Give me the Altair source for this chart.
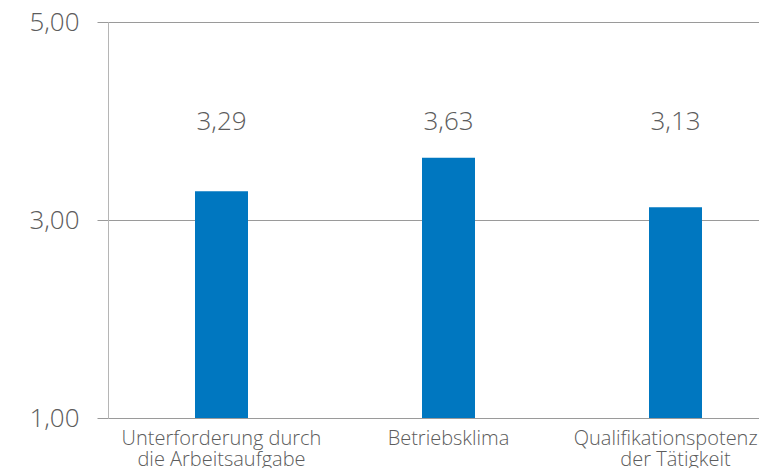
import altair as alt
import pandas as pd

categories = ["Unterforderung durch\ndie Arbeitsaufgabe", "Betriebsklima", "Qualifikationspotenzial\nder Tätigkeit"]
values = [3.29, 3.63, 3.13]
value_labels = ["3,29", "3,63", "3,13"]
y_ticks = [1, 3, 5]
baseline_value = [1, 1, 1]
label_level = [3.99, 3.99, 3.99]

df = pd.DataFrame({"cat": categories, "val": values, "base": baseline_value,
                   "lab": value_labels, "lvl": label_level})

FONT = "Open Sans"
GREY = "#5c5c5c"

x = alt.X("cat:N", sort=categories, title=None,
          scale=alt.Scale(range=[0, 681], paddingInner=0, paddingOuter=0),
          axis=alt.Axis(labelExpr="split(datum.value, '\\n')", labelAngle=0,
                        labelFontSize=20, labelColor=GREY, labelFont=FONT, labelFontWeight=300,
                        labelLineHeight=21, labelPadding=10, labelBaseline="top",
                        ticks=False, domain=False, labelLimit=400, labelOverlap=False))

bars = alt.Chart(df).mark_bar(color="#0077C0", size=53).encode(
    x=x,
    y=alt.Y("val:Q", title=None,
            scale=alt.Scale(domain=[1, 5], nice=False, zero=False),
            axis=alt.Axis(values=y_ticks, labelExpr="replace(format(datum.value, '.2f'), '.', ',')",
                          labelFontSize=26, labelColor=GREY, labelFont=FONT, labelFontWeight=300,
                          labelPadding=18,
                          tickSize=11, tickColor="#9a9a9a", domainColor="#b5b5b5",
                          grid=True, gridColor="#9a9a9a", gridWidth=1)),
    y2="base:Q",
)

texts = alt.Chart(df).mark_text(fontSize=26, color=GREY, font=FONT, fontWeight=300,
                                baseline="middle").encode(
    x=alt.X("cat:N", sort=categories),
    y=alt.Y("lvl:Q"),
    text="lab:N",
)

chart = alt.layer(bars, texts).properties(
    width=651, height=396,
    autosize=alt.AutoSizeParams(type="none"),
    padding={"left": 100, "top": 14, "right": 0, "bottom": 50},
).configure_view(stroke=None).configure(background="white")

chart.save("out.html", embed_options={"renderer": "svg", "actions": False})
